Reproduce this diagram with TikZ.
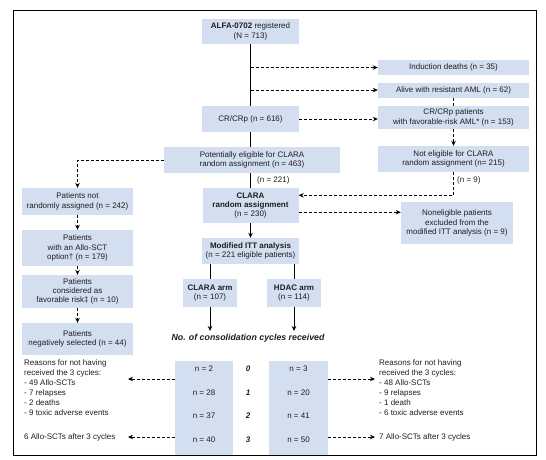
\documentclass[tikz,border=0pt]{standalone}
\usepackage{fontspec}
\setmainfont{Liberation Sans}
\usetikzlibrary{arrows.meta}
\definecolor{azulcaja}{RGB}{211,223,241}
\definecolor{texto}{RGB}{30,30,30}
\newcommand\letra{\fontsize{8}{9.4}\selectfont}
\newcommand\letralista{\fontsize{8}{10}\selectfont}

\begin{document}
\begin{tikzpicture}[x=1pt,y=-1pt,
    every node/.append style={font=\letra, text=texto},
    caja/.style={fill=azulcaja, inner sep=0pt, align=center},
    etiqueta/.style={inner sep=0pt, align=left},
    linea/.style={line width=0.8pt},
    discont/.style={line width=0.8pt, dash pattern=on 3pt off 2pt},
    punta/.style={-{Stealth[length=5pt,width=4.5pt]}}]
  \useasboundingbox (0,0) rectangle (546,459);

  % Tronco central
  \node[caja, minimum width=97, minimum height=25] (alfa) at (250.5,31.5) {\textbf{ALFA-0702} registered\\(N = 713)};
  \node[caja, minimum width=97, minimum height=26] (crcrp) at (250.5,119) {CR/CRp (n = 616)};
  \node[caja, minimum width=176, minimum height=26] (poten) at (252,160) {Potentially eligible for CLARA\\random assignment (n = 463)};
  \node[caja, minimum width=96, minimum height=35] (clara) at (250.5,205.5) {\textbf{CLARA}\\\textbf{random assignment}\\(n = 230)};
  \node[caja, minimum width=97, minimum height=26] (mitt) at (250.5,251) {\textbf{Modified ITT analysis}\\(n = 221 eligible patients)};
  \node[caja, minimum width=54, minimum height=28] (brazoC) at (210,293) {\textbf{CLARA arm}\\(n = 107)};
  \node[caja, minimum width=54, minimum height=28] (brazoH) at (294,293) {\textbf{HDAC arm}\\(n = 114)};

  % Columna derecha
  \node[caja, minimum width=151, minimum height=15] (muertes) at (453.5,67.5) {Induction deaths (n = 35)};
  \node[caja, minimum width=151, minimum height=15] (resist) at (453.5,90) {Alive with resistant AML (n = 62)};
  \node[caja, minimum width=151, minimum height=23] (favor) at (453.5,117.5) {CR/CRp patients\\with favorable-risk AML* (n = 153)};
  \node[caja, minimum width=151, minimum height=26] (noeleg) at (453.5,159) {Not eligible for CLARA\\random assignment (n= 215)};
  \node[caja, minimum width=112, minimum height=42] (excl) at (457,223) {Noneligible patients\\excluded from the\\modified ITT analysis (n = 9)};

  % Columna izquierda
  \node[caja, minimum width=111, minimum height=27] (norand) at (77.5,201.5) {Patients not\\randomly assigned (n = 242)};
  \node[caja, minimum width=111, minimum height=36] (allo) at (77.5,248) {Patients\\with an Allo-SCT\\option\textdagger{} (n = 179)};
  \node[caja, minimum width=111, minimum height=33] (riesgo) at (77.5,291.5) {Patients\\considered as\\favorable risk\textdaggerdbl{} (n = 10)};
  \node[caja, minimum width=111, minimum height=32] (negsel) at (77.5,339) {Patients\\negatively selected (n = 44)};

  % Flechas del tronco
  \coordinate (r1) at (250.5,67.5);
  \coordinate (r2) at (250.5,90);
  \draw[linea] (alfa.south) -- (crcrp.north);
  \draw[linea] (crcrp.south) -- (crcrp.south |- poten.north);
  \draw[linea] (clara.north |- poten.south) -- (clara.north);
  \node[etiqueta, anchor=west] (n221) at (257,180) {(n = 221)};
  \draw[linea, punta] (clara.south) -- (mitt.north);
  \draw[linea] (mitt.south -| brazoC.north) -- (brazoC.north);
  \draw[linea] (mitt.south -| brazoH.north) -- (brazoH.north);

  % Salidas discontinuas
  \draw[discont, punta] (r1) -- (muertes.west);
  \draw[discont, punta] (r2) -- (resist.west);
  \draw[discont, punta] (crcrp.east) -- (crcrp.east -| favor.west);
  \draw[discont] (resist.south) -- (favor.north);
  \draw[discont, punta] (favor.south) -- (noeleg.north);
  \draw[discont, punta] (noeleg.south) |- (clara.12);
  \node[etiqueta, anchor=west] (n9) at (457,180) {(n = 9)};
  \draw[discont, punta] (clara.-8) -- (clara.-8 -| excl.west);
  \draw[discont, punta] (poten.west) -| (norand.north);
  \draw[discont, punta] (norand.south) -- (allo.north);
  \draw[discont, punta] (allo.south) -- (riesgo.north);
  \draw[discont, punta] (riesgo.south) -- (negsel.north);

  % Ciclos de consolidacion
  \node[inner sep=0pt, font=\fontsize{8.8}{10}\selectfont\bfseries\itshape] (ciclos) at (248,338) {No. of consolidation cycles received};
  \coordinate (finC) at (210,331);
  \coordinate (finH) at (294,331);
  \draw[linea, punta] (brazoC.south) -- (finC);
  \draw[linea, punta] (brazoH.south) -- (finH);
  \node[caja, minimum width=58, minimum height=94] (colC) at (204,408) {};
  \node[caja, minimum width=59, minimum height=94] (colH) at (298.5,408) {};
  \foreach \y/\a/\b/\k in {369/2/3/0, 393/28/20/1, 416/37/41/2, 440/40/50/3} {
    \node (nC\k) at (204,\y) {n = \a};
    \node (nH\k) at (298.5,\y) {n = \b};
    \node[font=\letra\bfseries\itshape] (k\k) at (248,\y) {\k};
  }

  % Motivos
  \node[etiqueta, anchor=north west, font=\letralista] (razC) at (24,359) {Reasons for not having\\received the 3 cycles:\\- 49 Allo-SCTs\\- 7 relapses\\- 2 deaths\\- 9 toxic adverse events};
  \node[etiqueta, anchor=north west, font=\letralista] (razH) at (379,359) {Reasons for not having\\received the 3 cycles:\\- 48 Allo-SCTs\\- 9 relapses\\- 1 death\\- 6 toxic adverse events};
  \node[etiqueta, anchor=west] (trasC) at (24,437) {6 Allo-SCTs after 3 cycles};
  \node[etiqueta, anchor=west] (trasH) at (379,437) {7 Allo-SCTs after 3 cycles};
  \coordinate (fC1) at (128,379);
  \coordinate (fC2) at (128,437);
  \coordinate (fH1) at (375,379);
  \coordinate (fH2) at (375,437);
  \draw[discont, punta] (colC.west |- fC1) -- (fC1);
  \draw[discont, punta] (colC.west |- fC2) -- (fC2);
  \draw[discont, punta] (colH.east |- fH1) -- (fH1);
  \draw[discont, punta] (colH.east |- fH2) -- (fH2);

  % Marco
  \draw[linea] (13,10) rectangle (536,455);
\end{tikzpicture}
\end{document}
